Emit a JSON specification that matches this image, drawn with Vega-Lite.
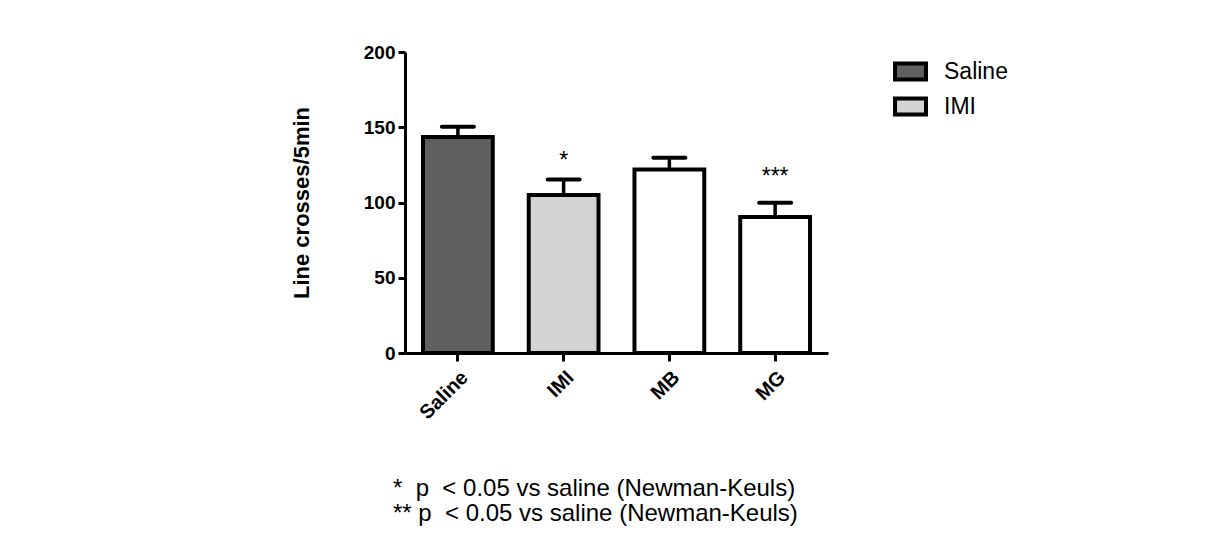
{
  "$schema": "https://vega.github.io/schema/vega-lite/v6.json",
  "width": 423,
  "height": 301,
  "autosize": "none",
  "padding": {"left": 405, "top": 52, "right": 391, "bottom": 194},
  "background": "white",
  "config": {
    "font": "Liberation Sans",
    "view": {"stroke": null},
    "axis": {"labelColor": "black", "domainColor": "black", "tickColor": "black", "titleColor": "black", "grid": false}
  },
  "title": {
    "text": ["*\u00a0\u00a0p\u00a0\u00a0< 0.05 vs saline (Newman-Keuls)", "**\u00a0p\u00a0\u00a0< 0.05 vs saline (Newman-Keuls)"],
    "orient": "bottom",
    "anchor": "start",
    "frame": "group",
    "dx": -12,
    "offset": 54,
    "fontSize": 24,
    "fontWeight": "normal",
    "color": "black",
    "lineHeight": 25,
    "font": "Liberation Sans"
  },
  "data": {
    "values": [
      {"group": "Saline", "mean": 143.5, "upper": 150.4, "star": "", "starY": 0},
      {"group": "IMI", "mean": 105, "upper": 115.3, "star": "*", "starY": 122.6},
      {"group": "MB", "mean": 122, "upper": 129.7, "star": "", "starY": 0},
      {"group": "MG", "mean": 90.3, "upper": 99.8, "star": "***", "starY": 112.2}
    ]
  },
  "encoding": {
    "x": {
      "field": "group",
      "type": "nominal",
      "sort": ["Saline", "IMI", "MB", "MG"],
      "scale": {"paddingInner": 0.34, "paddingOuter": 0.17},
      "axis": {
        "title": null,
        "labelAngle": -45,
        "labelFontSize": 20,
        "labelFontWeight": "bold",
        "domainWidth": 3,
        "tickWidth": 3,
        "tickSize": 8,
        "labelPadding": 6
      }
    }
  },
  "layer": [
    {
      "mark": {"type": "bar", "stroke": "black", "strokeWidth": 4},
      "encoding": {
        "y": {
          "field": "mean",
          "type": "quantitative",
          "scale": {"domain": [0, 200]},
          "axis": {
            "values": [0, 50, 100, 150, 200],
            "title": "Line crosses/5min",
            "titleFontSize": 22,
            "titleFontWeight": "bold",
            "titlePadding": 50,
            "labelFontSize": 19,
            "labelFontWeight": "bold",
            "domainWidth": 3,
            "tickWidth": 3,
            "tickSize": 7,
            "labelPadding": 3
          }
        },
        "fill": {
          "field": "group",
          "type": "nominal",
          "scale": {"domain": ["Saline", "IMI", "MB", "MG"], "range": ["#606060", "#d3d3d3", "white", "white"]},
          "legend": {
            "values": ["Saline", "IMI"],
            "title": null,
            "orient": "none",
            "legendX": 488,
            "legendY": 2,
            "symbolType": "M-1,-0.52H1V0.52H-1Z",
            "symbolSize": 960,
            "symbolStrokeColor": "black",
            "symbolStrokeWidth": 4,
            "labelFontSize": 23,
            "labelColor": "black",
            "labelOffset": 16,
            "rowPadding": 1
          }
        }
      }
    },
    {
      "mark": {"type": "rule", "color": "black", "strokeWidth": 3.5},
      "encoding": {
        "y": {"field": "mean", "type": "quantitative"},
        "y2": {"field": "upper"}
      }
    },
    {
      "mark": {"type": "tick", "color": "black", "opacity": 1, "size": 36, "thickness": 4, "cornerRadius": 2},
      "encoding": {
        "y": {"field": "upper", "type": "quantitative"}
      }
    },
    {
      "mark": {"type": "text", "fontSize": 23, "color": "black", "baseline": "alphabetic"},
      "encoding": {
        "y": {"field": "starY", "type": "quantitative"},
        "text": {"field": "star"}
      }
    }
  ]
}
